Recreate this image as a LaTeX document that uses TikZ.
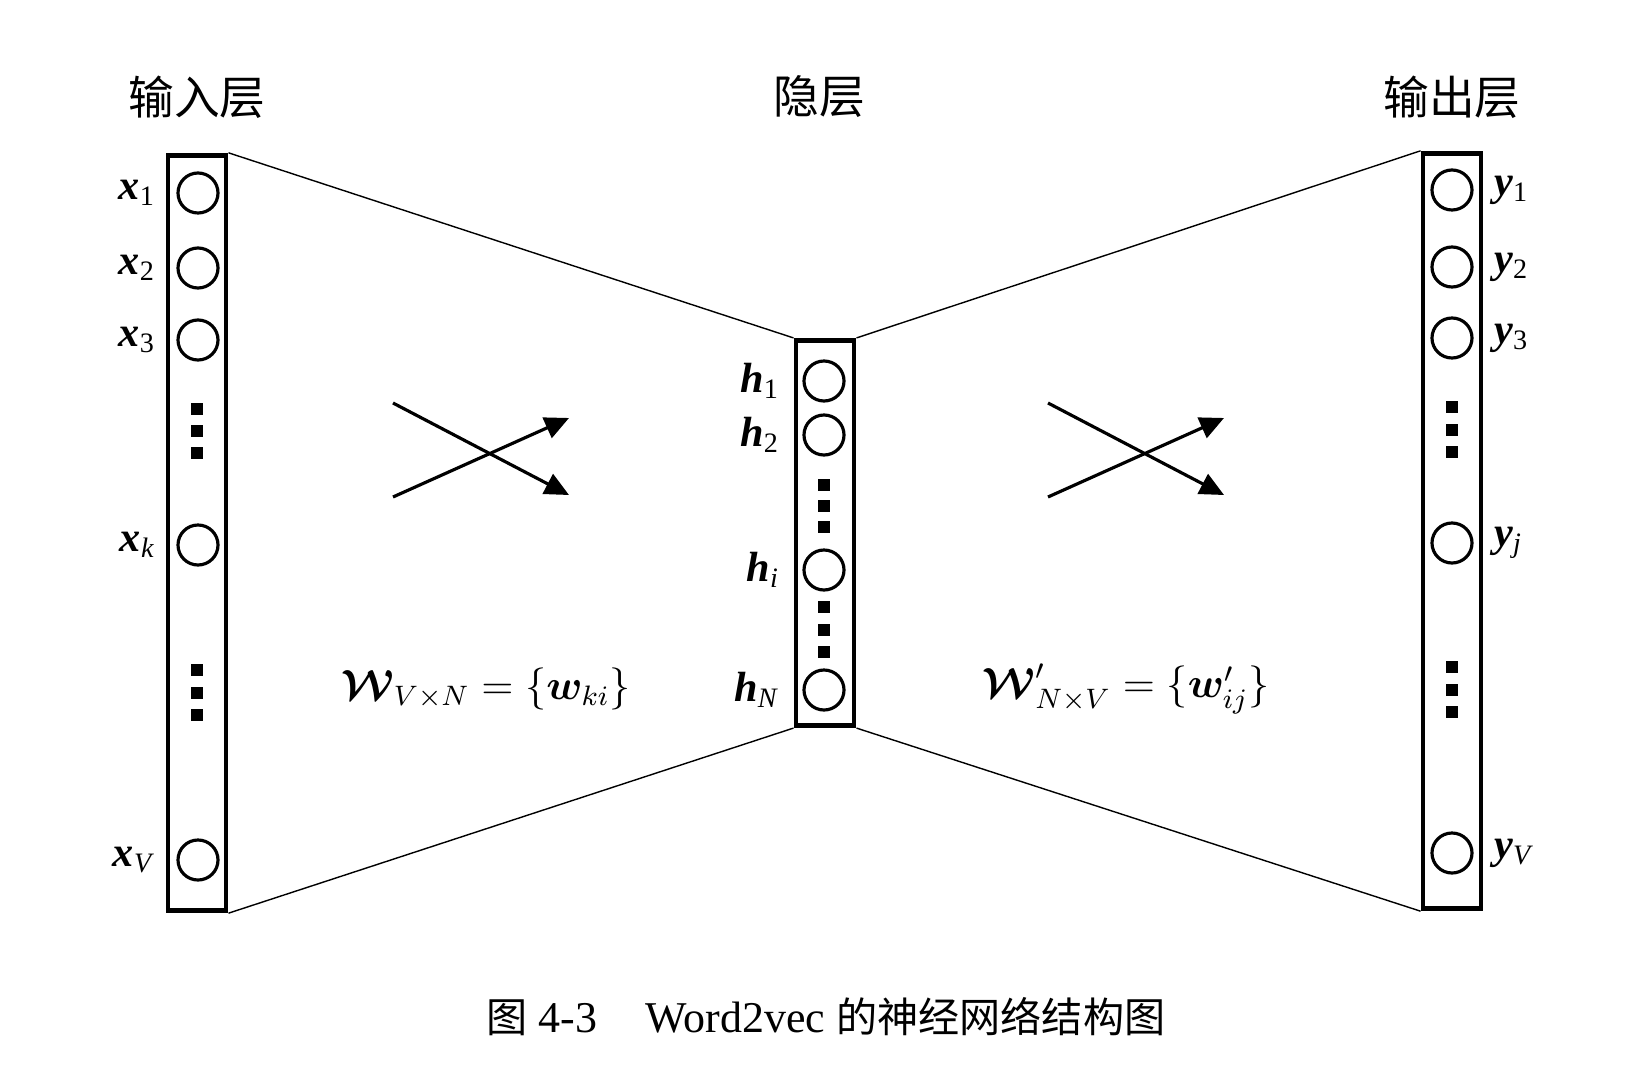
\documentclass[tikz,border=0pt]{standalone}
\usepackage{amsmath,bm}
\usepackage{fontspec}
\setmainfont{Liberation Serif}
\newfontfamily\cjk{Noto Sans CJK SC}
\usetikzlibrary{arrows.meta,positioning}

\begin{document}
\begin{tikzpicture}[x=0.01cm, y=-0.01cm,
  layer/.style={draw, line width=1.4pt, minimum width=0.58cm, inner sep=0},
  unit/.style={draw, circle, line width=0.9pt, minimum size=0.4cm, inner sep=0},
  dot/.style={fill, minimum size=0.12cm, inner sep=0},
  lbl/.style={inner sep=0, font=\fontsize{12}{14}\selectfont},
  head/.style={font=\cjk\fontsize{13}{15}\selectfont},
  formula/.style={font=\large},
  cross/.style={line width=0.9pt, -{Triangle[length=0.24cm, width=0.22cm]}},
]
\useasboundingbox (0,0) rectangle (1636,1076);
% Layer boxes
\node[layer, minimum height=7.55cm] (inl) at (197,533) {};
\node[layer, minimum height=3.85cm] (hid) at (825,533) {};
\node[layer, minimum height=7.55cm] (outl) at (1452,531) {};
% Layer titles
\node[head] (tin) at (197,97) {输入层};
\node[head] (thid) at (819,97) {隐层};
\node[head] (tout) at (1452,97) {输出层};
% Funnel edges
\draw[line width=0.4pt] (inl.north east) -- (hid.north west) (inl.south east) -- (hid.south west)
  (hid.north east) -- (outl.north west) (hid.south east) -- (outl.south west);
% Input units
\foreach \n/\yy/\s in {1/193/1, 2/268/2, 3/340/3, k/545/\textit{k}, V/860/\textit{V}} {
  \node[unit] (x\n) at (198,\yy) {};
  \node[lbl, left=0.2cm of x\n] (lx\n) {\textbf{\textit{x}}\textsubscript{\s}};
}
\foreach \yy in {409,431,453,670,693,715}
  \node[dot] (dx\yy) at (197,\yy) {};
% Hidden units
\foreach \n/\yy/\s in {1/381/1, 2/435/2, i/570/\textit{i}, N/690/\textit{N}} {
  \node[unit] (h\n) at (824,\yy) {};
  \node[lbl, left=0.22cm of h\n] (lh\n) {\textbf{\textit{h}}\textsubscript{\s}};
}
\foreach \yy in {485,506,527,607,630,652}
  \node[dot] (dh\yy) at (824,\yy) {};
% Output units
\foreach \n/\yy/\s in {1/190/1, 2/267/2, 3/338/3, j/543/\textit{j}, V/853/\textit{V}} {
  \node[unit] (y\n) at (1452,\yy) {};
  \node[lbl, right=0.2cm of y\n] (ly\n) {\textbf{\textit{y}}\textsubscript{\s}};
}
\foreach \yy in {407,430,452,667,690,712}
  \node[dot] (dy\yy) at (1452,\yy) {};
% Crossing arrows
\foreach \cx in {393,1048} {
  \draw[cross] (\cx,403) -- ++(176,92);
  \draw[cross] (\cx,497) -- ++(176,-79);
}
% Weight matrices
\node[formula] (wl) at (486,689) {$\bm{\mathcal{W}}_{V\times N}=\{\bm{w}_{ki}\}$};
\node[formula] (wr) at (1126,689) {$\bm{\mathcal{W}}'_{N\times V}=\{\bm{w}'_{ij}\}$};
% Caption
\node[font=\fontsize{12.5}{15}\selectfont] (cap) at (826,1017) {{\cjk\fontsize{11.7}{15}\selectfont 图}~4-3\hspace{1.1em}Word2vec~{\cjk\fontsize{11.7}{15}\selectfont 的神经网络结构图}};
\end{tikzpicture}
\end{document}
